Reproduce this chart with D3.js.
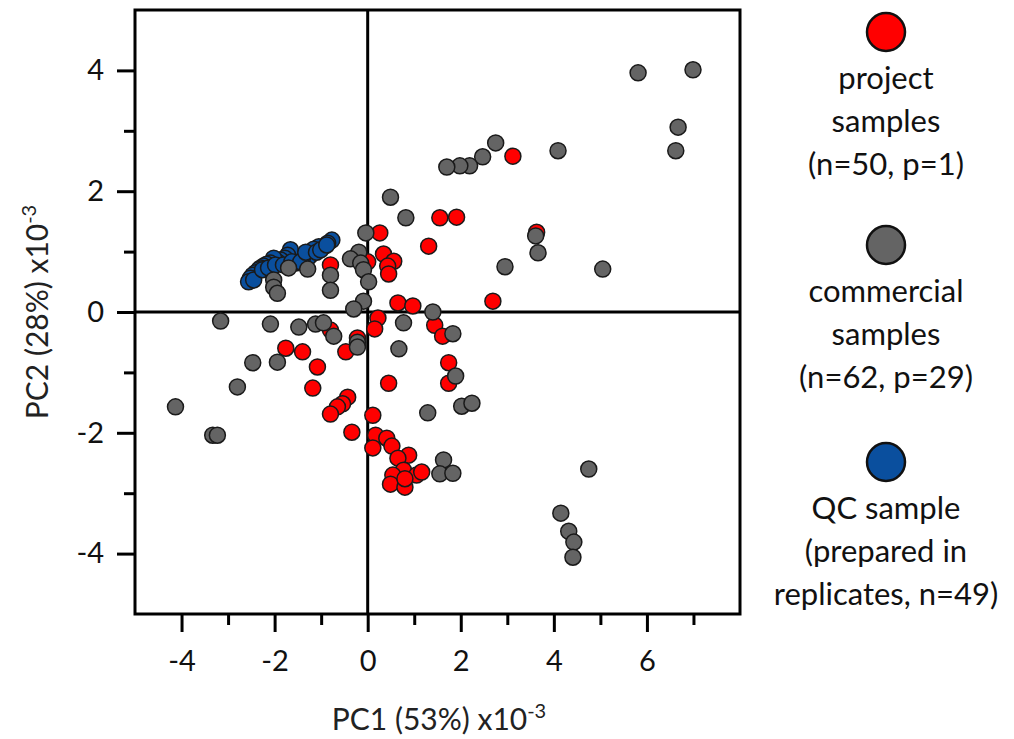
<!DOCTYPE html>
<html>
<head>
<meta charset="utf-8">
<script src="https://cdn.jsdelivr.net/npm/d3@7"></script>
<style>
  body { margin: 0; background: #fff; }
  svg { display: block; font-family: Lato, 'Noto Sans', sans-serif; }
</style>
</head>
<body>
<svg id="chart" width="1014" height="739"></svg>
<script>
// PC1 / PC2 scores, x10^-3
const qcSamples = [
  [-0.77, 1.19], [-0.86, 1.14], [-0.95, 1.08], [-1.05, 1.08], [-1.16, 1.04], [-1.23, 0.94],
  [-1.29, 0.89], [-1.40, 0.89], [-1.51, 0.89], [-1.55, 0.81], [-1.66, 1.03], [-1.72, 0.94],
  [-1.78, 0.89], [-1.87, 0.86], [-1.94, 0.83], [-2.02, 0.89], [-2.09, 0.81], [-2.17, 0.79],
  [-2.24, 0.76], [-2.30, 0.73], [-2.34, 0.70], [-2.41, 0.65], [-2.47, 0.61], [-2.52, 0.56],
  [-2.56, 0.50], [-2.45, 0.53], [-2.26, 0.70], [-2.13, 0.73], [-1.98, 0.78], [-1.81, 0.78],
  [-1.63, 0.83], [-1.44, 0.83], [-1.33, 0.99], [-1.10, 0.99], [-1.01, 1.03], [-0.88, 1.11]
]

const projectSamples = [
  [3.12, 2.58], [1.55, 1.56], [1.91, 1.57], [1.31, 1.09], [3.63, 1.32], [0.26, 1.31],
  [0.34, 0.96], [0.56, 0.84], [0.43, 0.76], [0.45, 0.63], [-0.80, 0.78], [0.00, 0.83],
  [0.65, 0.15], [0.97, 0.10], [2.69, 0.18], [0.22, -0.10], [0.15, -0.28], [1.44, -0.22],
  [1.61, -0.40], [1.74, -0.84], [1.74, -1.18], [-0.80, -0.30], [-0.47, -0.66], [-1.76, -0.60],
  [-1.40, -0.66], [-1.08, -0.91], [-1.18, -1.26], [-0.43, -1.41], [-0.54, -1.52], [-0.65, -1.57],
  [-0.80, -1.69], [-0.34, -1.99], [0.45, -1.18], [0.11, -1.71], [0.17, -2.04], [0.41, -2.09],
  [0.52, -2.22], [0.11, -2.25], [0.88, -2.37], [0.65, -2.42], [0.77, -2.62], [1.05, -2.70],
  [1.16, -2.65], [0.54, -2.70], [0.49, -2.85], [0.80, -2.90], [0.80, -2.76], [-0.22, -0.43]
]

const commercialSamples = [
  [5.81, 3.96], [6.99, 4.01], [6.67, 3.06], [6.62, 2.67], [4.09, 2.67], [2.75, 2.80],
  [2.47, 2.57], [2.19, 2.42], [1.98, 2.42], [1.70, 2.40], [5.05, 0.71], [2.95, 0.75],
  [3.61, 1.26], [3.66, 0.98], [0.49, 1.90], [0.82, 1.56], [-0.04, 1.31], [-0.19, 0.99],
  [-0.37, 0.88], [-0.15, 0.81], [-0.09, 0.70], [0.02, 0.50], [-0.09, 0.18], [-0.30, 0.05],
  [0.77, -0.18], [1.40, 0.00], [1.83, -0.36], [0.67, -0.61], [1.89, -1.06], [1.29, -1.67],
  [2.02, -1.56], [2.24, -1.51], [1.63, -2.45], [1.55, -2.68], [1.83, -2.67], [4.75, -2.60],
  [4.15, -3.33], [4.32, -3.63], [4.43, -3.81], [4.41, -4.06], [-1.70, 0.73], [-1.29, 0.71],
  [-0.80, 0.61], [-0.80, 0.36], [-2.02, 0.53], [-2.02, 0.41], [-1.94, 0.31], [-3.16, -0.15],
  [-2.09, -0.20], [-1.48, -0.25], [-1.12, -0.20], [-0.95, -0.18], [-0.73, -0.40], [-0.22, -0.50],
  [-0.22, -0.58], [-2.47, -0.84], [-1.94, -0.83], [-2.80, -1.24], [-4.13, -1.57], [-3.33, -2.04],
  [-3.23, -2.04]
]

const xMajorTicks = [-4, -2, 0, 2, 4, 6]
const xMinorTicks = [-3, -1, 1, 3, 5, 7]
const yMajorTicks = [-4, -2, 0, 2, 4]
const yMinorTicks = [-3, -1, 1, 3]

const groups = [
  { name: 'qc', color: '#0a4f9e', values: qcSamples },
  { name: 'project', color: '#ff0000', values: projectSamples },
  { name: 'commercial', color: '#646464', values: commercialSamples }
]

const legendItems = [
  { color: '#ff0000', lines: ['project', 'samples', '(n=50, p=1)'] },
  { color: '#646464', lines: ['commercial', 'samples', '(n=62, p=29)'] },
  { color: '#0a4f9e', lines: ['QC sample', '(prepared in', 'replicates, n=49)'] }
]

const svg = d3.select('#chart')
const plotLeft = 135, plotRight = 740, plotTop = 10, plotBottom = 614

const x = d3.scaleLinear().domain([-5, 8]).range([plotLeft, plotRight])
const y = d3.scaleLinear().domain([-5, 5]).range([plotBottom, plotTop])

const styleAxis = (g) => {
  g.attr('font-family', null).attr('font-size', null)
  g.select('.domain').remove()
  g.selectAll('line').attr('stroke', '#000').attr('stroke-width', 3)
  g.selectAll('text').attr('fill', '#111').style('font-size', '29px')
}

// axes: long ticks with labels, short ticks without
svg.append('g').attr('transform', `translate(0,${plotBottom})`)
  .call(d3.axisBottom(x).tickValues(xMajorTicks).tickSize(18).tickPadding(18).tickFormat(d3.format('d')))
  .call(styleAxis)
svg.append('g').attr('transform', `translate(0,${plotBottom})`)
  .call(d3.axisBottom(x).tickValues(xMinorTicks).tickSize(11).tickFormat(''))
  .call(styleAxis)
svg.append('g').attr('transform', `translate(${plotLeft},0)`)
  .call(d3.axisLeft(y).tickValues(yMajorTicks).tickSize(18).tickPadding(13).tickFormat(d3.format('d')))
  .call(styleAxis)
svg.append('g').attr('transform', `translate(${plotLeft},0)`)
  .call(d3.axisLeft(y).tickValues(yMinorTicks).tickSize(11).tickFormat(''))
  .call(styleAxis)

// plain hyphen for negatives, like the original
svg.selectAll('.tick text').text(function () { return this.textContent.replace('\u2212', '-') })

// zero lines
svg.append('line').attr('x1', x(0)).attr('x2', x(0)).attr('y1', plotTop).attr('y2', plotBottom)
  .attr('stroke', '#000').attr('stroke-width', 3)
svg.append('line').attr('x1', plotLeft).attr('x2', plotRight).attr('y1', y(0)).attr('y2', y(0))
  .attr('stroke', '#000').attr('stroke-width', 3)

// points
const gPoints = svg.append('g')
groups.forEach((grp) => {
  gPoints.append('g').selectAll('circle').data(grp.values).enter()
    .append('circle')
    .attr('cx', (d) => x(d[0]))
    .attr('cy', (d) => y(d[1]))
    .attr('r', 8)
    .attr('fill', grp.color)
    .attr('stroke', '#1a1a1a')
    .attr('stroke-width', 1.5)
})

// frame
svg.append('rect').attr('x', plotLeft).attr('y', plotTop)
  .attr('width', plotRight - plotLeft).attr('height', plotBottom - plotTop)
  .attr('fill', 'none').attr('stroke', '#000').attr('stroke-width', 3)

// axis titles
const xTitle = svg.append('text').attr('x', 439).attr('y', 730)
  .attr('text-anchor', 'middle').style('font-size', '30px').attr('fill', '#222')
xTitle.append('tspan').text('PC1 (53%) x10')
xTitle.append('tspan').attr('dy', -12).style('font-size', '20px').text('-3')

const yTitle = svg.append('text').attr('transform', 'translate(48,312) rotate(-90)')
  .attr('text-anchor', 'middle').style('font-size', '30px').attr('fill', '#222')
yTitle.append('tspan').text('PC2 (28%) x10')
yTitle.append('tspan').attr('dy', -12).style('font-size', '20px').text('-3')

// legend
const legendTop = [32, 245, 462]
const gLegend = svg.append('g')
legendItems.forEach((item, i) => {
  const cy = legendTop[i]
  gLegend.append('circle').attr('cx', 886).attr('cy', cy).attr('r', 19)
    .attr('fill', item.color).attr('stroke', '#111').attr('stroke-width', 2.5)
  gLegend.append('g').selectAll('text').data(item.lines).enter()
    .append('text')
    .attr('x', 886)
    .attr('y', (_, j) => cy + 57 + j * 43)
    .attr('text-anchor', 'middle')
    .style('font-size', '31px')
    .attr('fill', '#111')
    .text((d) => d)
})
</script>
</body>
</html>
